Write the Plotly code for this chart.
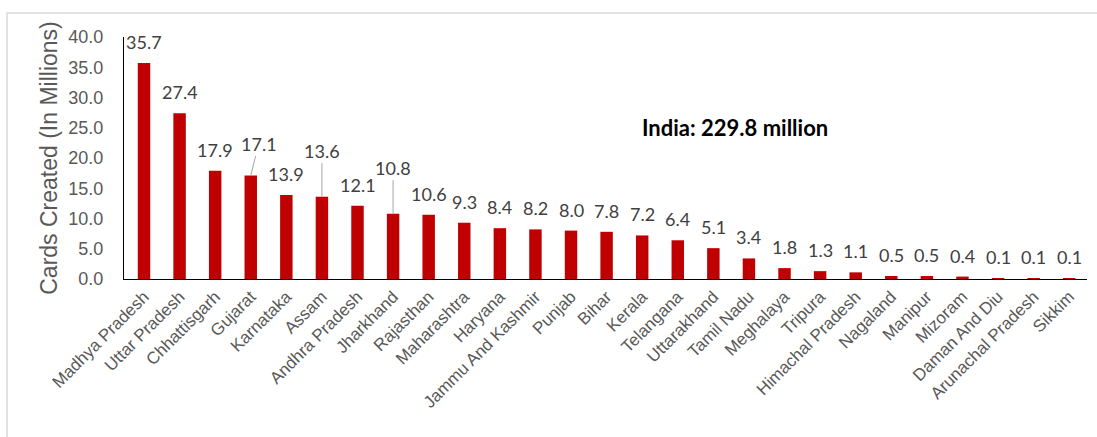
import plotly.graph_objects as go

states = ["Madhya Pradesh", "Uttar Pradesh", "Chhattisgarh", "Gujarat", "Karnataka", "Assam",
          "Andhra Pradesh", "Jharkhand", "Rajasthan", "Maharashtra", "Haryana", "Jammu And Kashmir",
          "Punjab", "Bihar", "Kerala", "Telangana", "Uttarakhand", "Tamil Nadu", "Meghalaya",
          "Tripura", "Himachal Pradesh", "Nagaland", "Manipur", "Mizoram", "Daman And Diu",
          "Arunachal Pradesh", "Sikkim"]
cards = [35.7, 27.4, 17.9, 17.1, 13.9, 13.6, 12.1, 10.8, 10.6, 9.3, 8.4, 8.2, 8.0, 7.8, 7.2,
         6.4, 5.1, 3.4, 1.8, 1.3, 1.1, 0.5, 0.5, 0.4, 0.1, 0.1, 0.1]
y_ticks = [0, 5, 10, 15, 20, 25, 30, 35, 40]
total_label = "India: 229.8 million"
# labels drawn with a leader line (label offset in pixels: dx, dy)
leader = {"Gujarat": (8, -32), "Assam": (0, -46), "Jharkhand": (0, -46)}

fig = go.Figure()
fig.add_trace(go.Bar(x=states, y=cards, marker_color="#C00000", marker_line_width=0,
                     hoverinfo="x+y"))

lab_font = dict(family="Lato, Open Sans, sans-serif", size=18, color="#404040")
for s, v in zip(states, cards):
    if s in leader:
        dx, dy = leader[s]
        fig.add_annotation(x=s, y=v, text=f"{v:.1f}", showarrow=True, arrowhead=0,
                           arrowwidth=1, arrowcolor="#A6A6A6", ax=dx, ay=dy, standoff=0,
                           font=lab_font)
    else:
        fig.add_annotation(x=s, y=v, text=f"{v:.1f}", showarrow=False, yanchor="bottom",
                           yshift=8, font=lab_font)

fig.add_annotation(x=0.6345, y=0.628, xref="paper", yref="paper", text=f"<b>{total_label}</b>",
                   showarrow=False, font=dict(family="Lato, Open Sans, sans-serif", size=22,
                                              color="#000000"))

# outer light frame
fig.add_shape(type="rect", xref="paper", yref="paper", x0=-0.1215, x1=1.0135, y0=-0.665,
              y1=1.099, line=dict(color="#D9D9D9", width=1.5), layer="below")

fig.update_layout(
    width=1097, height=437,
    margin=dict(l=124, r=10, t=37, b=158, autoexpand=False),
    plot_bgcolor="white", paper_bgcolor="white",
    bargap=0.65, showlegend=False,
    font=dict(family="Liberation Sans, Arial, sans-serif", color="#595959"),
)
fig.update_xaxes(tickangle=-45, tickfont=dict(size=17, color="#595959"), showline=True,
                 linecolor="#000000", linewidth=1.2, ticks="", showgrid=False, automargin=False)
fig.update_yaxes(range=[0, 40], tickvals=y_ticks, tickformat=".1f",
                 tickfont=dict(size=18, color="#595959"), showline=True, linecolor="#000000",
                 linewidth=1.2, ticks="", showgrid=False, zeroline=False, automargin=False,
                 ticklabelstandoff=16,
                 title=dict(text="Cards Created (In Millions)", font=dict(size=23, color="#595959"),
                            standoff=4))

fig.write_html("out.html")
